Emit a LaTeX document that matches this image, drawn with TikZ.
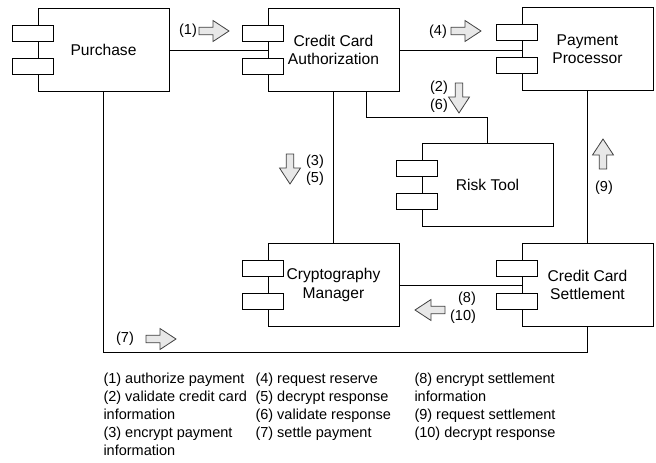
\documentclass[tikz,border=0pt]{standalone}
\usepackage{fontspec}
\setmainfont{Liberation Sans}
\usetikzlibrary{calc}
\newcommand\dfont{\fontsize{14.5}{18}\selectfont}
\newcommand\cfont{\fontsize{15.6}{18.5}\selectfont}
\begin{document}
\begin{tikzpicture}[x=1pt,y=-1pt,line width=1pt,
  comp/.style={draw,fill=white,minimum width=131pt,minimum height=83pt,
               align=center,inner sep=0pt,font=\cfont},
  port/.style={draw,fill=white,minimum width=41pt,minimum height=16pt,inner sep=0pt},
  lbl/.style={inner sep=0pt,font=\dfont},
  legend/.style={inner sep=0pt,align=left,font=\dfont,anchor=north west},
  flowarrow/.style={draw=black!75,fill=black!9,line width=0.8pt,line join=miter},
  flow/.pic={\path[flowarrow] (-15pt,-3.8pt) -- (-1pt,-3.8pt) -- (-1pt,-10.5pt) -- (15pt,0pt)
                  -- (-1pt,10.5pt) -- (-1pt,3.8pt) -- (-15pt,3.8pt) -- cycle;}]
\useasboundingbox (0,0) rectangle (656,463);

% components
\node[comp] (purchase) at (103.5,50)  {Purchase};
\node[comp] (cca)      at (333.5,50)  {Credit Card\\Authorization};
\node[comp] (pp)       at (587.5,49)  {Payment\\Processor};
\node[comp] (risk)     at (487.5,184.5) {Risk Tool};
\node[comp] (crypto)   at (333.5,285) {Cryptography\\Manager};
\node[comp] (ccs)      at (587.5,285) {Credit Card\\Settlement};

% the two interface ports on the left side of each component
\foreach \c in {purchase,cca,pp,risk,crypto,ccs}{
  \node[port] (\c-p1) at ([xshift=-4.5pt,yshift=16.5pt]\c.west) {};
  \node[port] (\c-p2) at ([xshift=-4.5pt,yshift=-16.5pt]\c.west) {};
}

% connectors
\coordinate (bot) at (0,352);
\coordinate (rk) at (0,117);
\draw (purchase.east) -- (cca.west);
\draw (cca.east) -- (cca.east -| pp.west);
\draw (cca.south) -- (crypto.north);
\draw ([xshift=32.5pt]cca.south) |- (risk.north |- rk) -- (risk.north);
\draw (pp.south) -- (ccs.north);
\draw (crypto.east) -- (crypto.east -| ccs.west);
\draw (purchase.south) |- (ccs.south |- bot) -- (ccs.south);

% message flow arrows
\pic at (214,31) {flow};
\pic at (466,31) {flow};
\pic[rotate=-90] at (459,98) {flow};
\pic[rotate=-90] at (290,169) {flow};
\pic[rotate=90] at (603,154) {flow};
\pic[rotate=180] at (430,310) {flow};
\pic at (161,339) {flow};

% message numbers
\node[lbl] (n1) at (188,31) {(1)};
\node[lbl] (n4) at (438,32) {(4)};
\node[lbl] (n2) at (439,88) {(2)};
\node[lbl] (n6) at (439,106) {(6)};
\node[lbl] (n3) at (315,162) {(3)};
\node[lbl] (n5) at (315,179) {(5)};
\node[lbl] (n9) at (604,188) {(9)};
\node[lbl] (n8) at (467,299) {(8)};
\node[lbl] (n10) at (463,317) {(10)};
\node[lbl] (n7) at (125,339) {(7)};

% legend
\node[legend] (leg1) at (103,372.5) {(1) authorize payment\\(2) validate credit card\\information\\(3) encrypt payment\\information};
\node[legend] (leg2) at (255,372.5) {(4) request reserve\\(5) decrypt response\\(6) validate response\\(7) settle payment};
\node[legend] (leg3) at (414,372.5) {(8) encrypt settlement\\information\\(9) request settlement\\(10) decrypt response};
\end{tikzpicture}
\end{document}
